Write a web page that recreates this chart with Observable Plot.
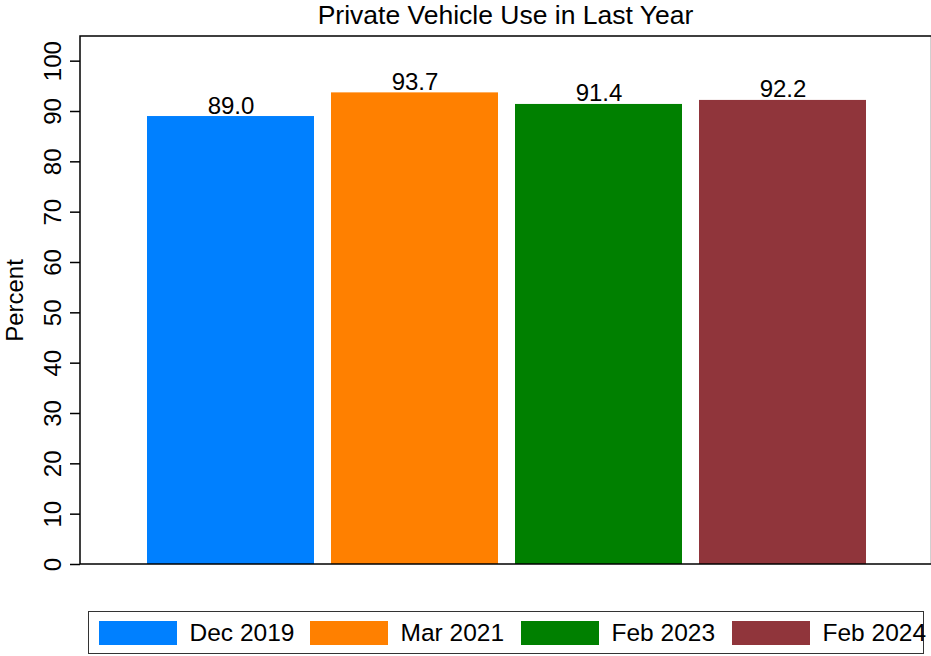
<!DOCTYPE html>
<html>
<head>
<meta charset="utf-8">
<script src="https://cdn.jsdelivr.net/npm/d3@7"></script>
<script src="https://cdn.jsdelivr.net/npm/@observablehq/plot@0.6"></script>
<style>
  html, body { margin: 0; padding: 0; background: #fff; }
  body { width: 931px; height: 656px; overflow: hidden; font-family: "Liberation Sans", Arial, Helvetica, sans-serif; color: #000; }
  #title { height: 30px; line-height: 30px; font-size: 26.5px; text-align: center; padding-left: 80px; box-sizing: border-box; width: 931px; white-space: nowrap; }
  #chart svg { display: block; overflow: visible; }
  #legend { margin-top: 11px; margin-left: 88px; width: 836px; height: 43px; box-sizing: border-box; border: 1.5px solid #333; display: flex; align-items: center; padding-left: 9.5px; overflow: visible; white-space: nowrap; }
  .item { display: flex; align-items: center; width: 211px; flex: none; font-size: 24.5px; }
  .sw { width: 78px; height: 24px; margin-right: 13px; flex: none; }
</style>
</head>
<body>
<div id="title">Private Vehicle Use in Last Year</div>
<div id="chart"></div>
<div id="legend"></div>
<script>
const periods = ["Dec 2019", "Mar 2021", "Feb 2023", "Feb 2024"];
const values = [89.0, 93.7, 91.4, 92.2];
const colors = ["#0080FF", "#FF8000", "#008000", "#90353B"];
const yTicks = [0, 10, 20, 30, 40, 50, 60, 70, 80, 90, 100];

const data = periods.map((p, i) => ({period: p, value: values[i]}));
const font = '"Liberation Sans", Arial, Helvetica, sans-serif';

// plot-area border: black top/left/bottom, faint grey right edge
function border(index, scales, values, dims) {
  const l = dims.marginLeft, r = dims.width - dims.marginRight;
  const t = dims.marginTop, b = dims.height - dims.marginBottom;
  const g = d3.create("svg:g").attr("fill", "none");
  g.append("line").attr("x1", r - 0.5).attr("x2", r - 0.5).attr("y1", t).attr("y2", b).attr("stroke", "#d0d0d0").attr("stroke-width", 1);
  g.append("path").attr("d", `M${r},${t}H${l}V${b}H${r}`).attr("stroke", "#000").attr("stroke-width", 1.5);
  return g.node();
}

const chart = Plot.plot({
  width: 931,
  height: 570,
  marginTop: 6,
  marginBottom: 36,
  marginLeft: 80,
  marginRight: 0,
  style: {fontFamily: font, color: "#000", background: "#fff"},
  x: {domain: periods, range: [138.5, 874.5], paddingInner: 17 / 184, paddingOuter: 8.5 / 184, axis: null},
  y: {domain: [0, 104.9]},
  color: {domain: periods, range: colors},
  marks: [
    Plot.barY(data, {x: "period", y: "value", fill: "period"}),
    Plot.text(data, {x: "period", y: "value", text: d => d.value.toFixed(1), dy: -3, lineAnchor: "bottom", fontSize: 24, fill: "#000"}),
    // tick marks
    Plot.axisY({ticks: yTicks, tickSize: 10, tickFormat: () => "", stroke: "#000", strokeWidth: 1.5, label: null}),
    // rotated tick labels + axis title
    Plot.axisY({
      ticks: yTicks, tickSize: 0, tickPadding: 20, rotate: -90,
      textAnchor: "middle", lineAnchor: "bottom", fontSize: 24, fill: "#000",
      label: "Percent", labelAnchor: "center", labelArrow: "none", labelOffset: 75
    }),
    border
  ]
});
document.getElementById("chart").appendChild(chart);

const legend = d3.select("#legend");
periods.forEach((p, i) => {
  const item = legend.append("div").attr("class", "item");
  item.append("div").attr("class", "sw").style("background", colors[i]);
  item.append("span").text(p);
});
</script>
</body>
</html>
